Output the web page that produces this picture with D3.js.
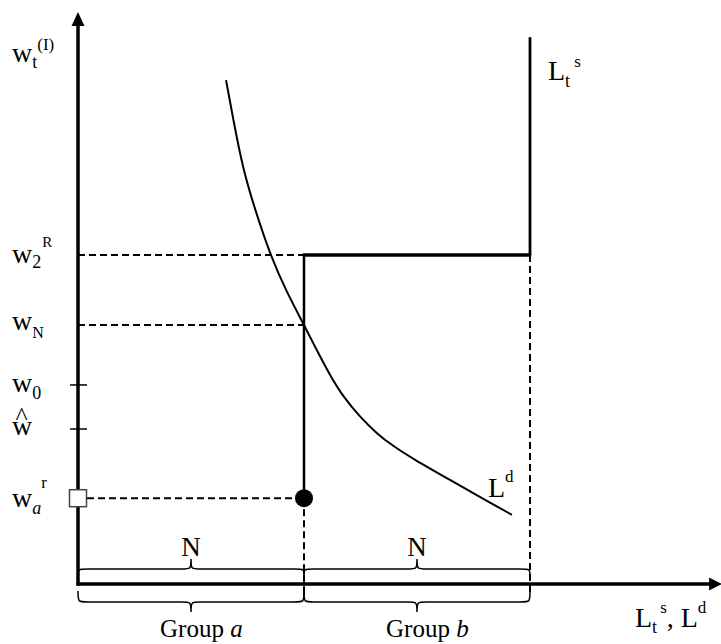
<!DOCTYPE html>
<html>
<head>
<meta charset="utf-8">
<script src="https://cdn.jsdelivr.net/npm/d3@7"></script>
<style>
  html, body { margin: 0; padding: 0; background: #fff; }
  svg { display: block; }
</style>
</head>
<body>
<div id="chart"></div>
<script>
// Quantity axis in units of N (0 = origin, 1 = N, 2 = 2N)
const groupNames = ["a", "b"];
const groupStarts = [0, 1];
const groupEnds = [1, 2];

// Wage levels on the vertical axis
const wageNames = ["w2R", "wN", "w0", "what", "war"];
const wageValues = [5.75, 4.53, 3.48, 2.71, 1.50];

// Labour demand curve L^d
const ldQ = [0.655, 0.695, 0.73, 0.774, 0.85, 0.925, 1.0, 1.056, 1.115, 1.174, 1.248, 1.322, 1.395, 1.477, 1.659, 1.81, 1.92];
const ldW = [8.81, 7.95, 7.27, 6.66, 5.75, 5.09, 4.53, 4.09, 3.65, 3.27, 2.92, 2.63, 2.41, 2.20, 1.79, 1.45, 1.21];

// Labour supply L^s (step)
const lsQ = [1, 1, 2, 2];
const lsW = [1.50, 5.75, 5.75, 9.56];

const W = 721, H = 644;
const SERIF = "'Liberation Serif','Times New Roman',serif";

const svg = d3.select("#chart").append("svg")
  .attr("width", W).attr("height", H)
  .style("font-family", SERIF);

const x = d3.scaleLinear().domain([0, 2]).range([78, 530]);
const y = d3.scaleLinear().domain([0, 10]).range([584, 12]);
const wage = name => wageValues[wageNames.indexOf(name)];

// Rich label helper: parts = [text, kind, baselineOffset, dx, size]
function richLabel(x0, base, parts, size) {
  const t = svg.append("text").attr("x", x0).attr("y", base)
    .attr("font-size", size).attr("fill", "#000");
  parts.forEach(p => {
    const [txt, kind, off, dx, sz] = p;
    const ts = t.append("tspan").text(txt).attr("y", base + (off || 0));
    if (sz) ts.attr("font-size", sz);
    if (kind === "it") ts.attr("font-style", "italic");
    if (dx) ts.attr("dx", dx);
  });
  return t;
}

// Axes
svg.append("line")
  .attr("x1", x(0)).attr("y1", y(0) + 1.5).attr("x2", x(0)).attr("y2", 22)
  .attr("stroke", "#000").attr("stroke-width", 3.5);
svg.append("path")
  .attr("d", `M${x(0)},${y(10)} L${x(0) - 6.5},${y(10) + 14} L${x(0) + 6.5},${y(10) + 14}Z`)
  .attr("fill", "#000");
svg.append("line")
  .attr("x1", x(0) - 1.5).attr("y1", y(0)).attr("x2", 712).attr("y2", y(0))
  .attr("stroke", "#000").attr("stroke-width", 3.5);
svg.append("path")
  .attr("d", `M${x(2.85)},${y(0)} L${x(2.85) - 13},${y(0) - 6.5} L${x(2.85) - 13},${y(0) + 6.5}Z`)
  .attr("fill", "#000");

// Dashed guides
const dash = "7,4";
["w2R", "wN"].forEach(n => {
  svg.append("line")
    .attr("x1", x(0)).attr("x2", x(1)).attr("y1", y(wage(n))).attr("y2", y(wage(n)))
    .attr("stroke", "#000").attr("stroke-width", 2).attr("stroke-dasharray", dash);
});
svg.append("line")
  .attr("x1", x(0) + 9).attr("x2", x(1)).attr("y1", y(wage("war"))).attr("y2", y(wage("war")))
  .attr("stroke", "#000").attr("stroke-width", 2).attr("stroke-dasharray", dash);
svg.append("line")
  .attr("x1", x(1)).attr("x2", x(1)).attr("y1", y(wage("war"))).attr("y2", y(0) + 13)
  .attr("stroke", "#000").attr("stroke-width", 2).attr("stroke-dasharray", dash);
svg.append("line")
  .attr("x1", x(2)).attr("x2", x(2)).attr("y1", y(wage("w2R"))).attr("y2", y(0) + 8)
  .attr("stroke", "#000").attr("stroke-width", 2).attr("stroke-dasharray", dash);

// Ticks for w0 and w-hat
["w0", "what"].forEach(n => {
  svg.append("line")
    .attr("x1", x(0) - 8).attr("x2", x(0) + 9).attr("y1", y(wage(n))).attr("y2", y(wage(n)))
    .attr("stroke", "#000").attr("stroke-width", 1.5);
});

// Supply step
const pts = lsQ.map((q, i) => [x(q), y(lsW[i])]);
svg.append("line").attr("x1", pts[0][0]).attr("y1", pts[0][1]).attr("x2", pts[1][0]).attr("y2", pts[1][1])
  .attr("stroke", "#000").attr("stroke-width", 2.5);
svg.append("line").attr("x1", pts[1][0] - 1.2).attr("y1", pts[1][1]).attr("x2", pts[2][0] + 1.2).attr("y2", pts[2][1])
  .attr("stroke", "#000").attr("stroke-width", 3.5);
svg.append("line").attr("x1", pts[2][0]).attr("y1", pts[2][1]).attr("x2", pts[3][0]).attr("y2", pts[3][1])
  .attr("stroke", "#000").attr("stroke-width", 2.8);

// Demand curve
const line = d3.line().x(d => x(d[0])).y(d => y(d[1])).curve(d3.curveBasis);
svg.append("path")
  .datum(ldQ.map((q, i) => [q, ldW[i]]))
  .attr("d", line)
  .attr("fill", "none").attr("stroke", "#000").attr("stroke-width", 2);

// Dot and square
svg.append("circle").attr("cx", x(1)).attr("cy", y(wage("war"))).attr("r", 9).attr("fill", "#000");
svg.append("rect")
  .attr("x", x(0) - 8.5).attr("y", y(wage("war")) - 8.5).attr("width", 17).attr("height", 17)
  .attr("fill", "#fff").attr("stroke", "#444").attr("stroke-width", 1.5);

// Braces
function brace(x1, x2, yEnd, yBody, yTip) {
  const xm = (x1 + x2) / 2, r = 10;
  return `M${x1},${yEnd} C${x1},${yBody} ${x1},${yBody} ${x1 + r},${yBody}` +
    ` L${xm - r},${yBody} C${xm},${yBody} ${xm},${yBody} ${xm},${yTip}` +
    ` C${xm},${yBody} ${xm},${yBody} ${xm + r},${yBody}` +
    ` L${x2 - r},${yBody} C${x2},${yBody} ${x2},${yBody} ${x2},${yEnd}`;
}
groupNames.forEach((g, i) => {
  const a = x(groupStarts[i]), b = x(groupEnds[i]);
  svg.append("path").attr("d", brace(a, b, 576, 569, 559))
    .attr("fill", "none").attr("stroke", "#000").attr("stroke-width", 1.5);
  svg.append("path").attr("d", brace(a, b, 591, 602, 612))
    .attr("fill", "none").attr("stroke", "#000").attr("stroke-width", 1.5);
  svg.append("text").attr("x", (a + b) / 2).attr("y", 556)
    .attr("text-anchor", "middle").attr("font-size", 27).text("N");
  richLabel((a + b) / 2 - 31, 637, [["Group "], [g, "it"]], 25);
});

// Vertical axis labels
const lx = 12;
richLabel(lx, 62, [["w"], ["t", "", 6, 0, 18], ["(I)", "", -12, 0, 17]], 28);
richLabel(lx, y(wage("w2R")) + 8, [["w"], ["2", "", 5, 0, 18], ["R", "", -16, 1, 15]], 28);
richLabel(lx, y(wage("wN")) + 5, [["w"], ["N", "", 8, 0, 16]], 28);
richLabel(lx, y(wage("w0")) + 7, [["w"], ["0", "", 7, 0, 18]], 28);
// w-hat: hat and letter in one text element
const hat = svg.append("text").attr("font-size", 28).attr("fill", "#000");
hat.append("tspan").attr("x", lx + 3.5).attr("y", y(wage("what")) - 4).attr("font-size", 26).text("^");
hat.append("tspan").attr("x", lx).attr("y", y(wage("what")) + 6).text("w");
richLabel(lx, y(wage("war")) + 9, [["w"], ["a", "it", 7, 0, 18], ["r", "", -19, 0, 17]], 28);

// Curve labels
richLabel(548, 80, [["L"], ["t", "", 7, 0, 18], ["s", "", -13, 4, 17]], 28);
richLabel(488, 497, [["L"], ["d", "", -15, 0, 17]], 28);
richLabel(635, 627, [["L"], ["t", "", 6, 0, 18], ["s", "", -14, 3, 17], [", "], ["L"], ["d", "", -14, 0, 17]], 28);
</script>
</body>
</html>
